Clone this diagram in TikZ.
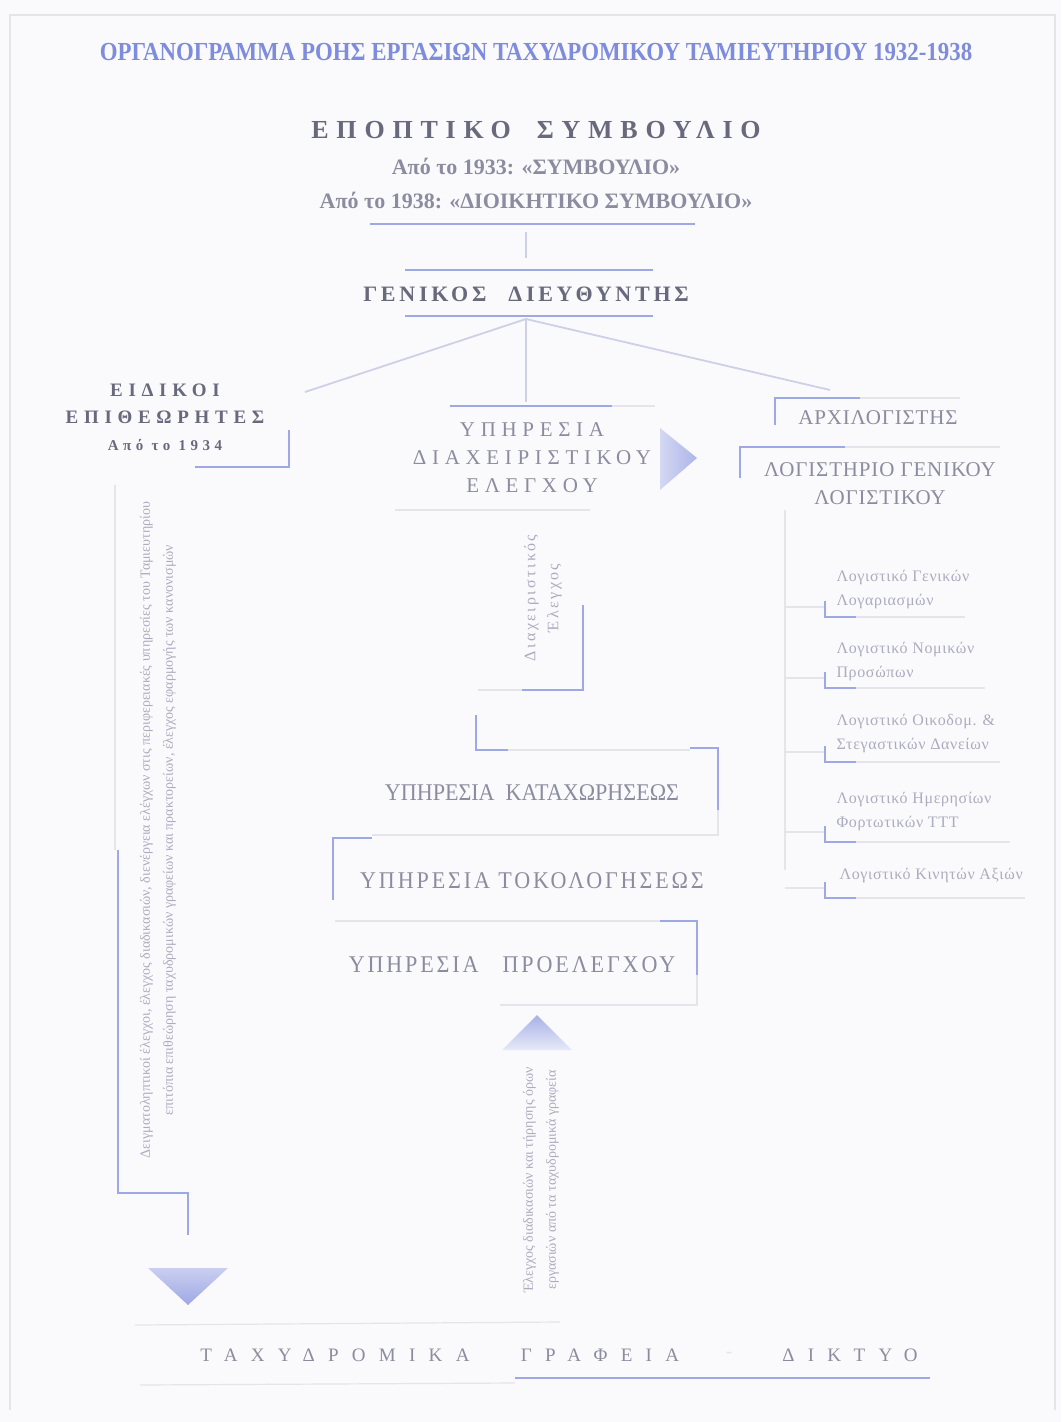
\documentclass[tikz,border=0pt]{standalone}
\usepackage{fontspec}
\setmainfont{Liberation Serif}
\newfontfamily\cond[FakeStretch=0.88]{Liberation Serif}
\newfontfamily\unitfont[FakeStretch=0.92]{Liberation Serif}
\usetikzlibrary{positioning}
\definecolor{paper}{RGB}{250,250,252}
\definecolor{lineblue}{RGB}{158,168,228}
\definecolor{titleblue}{RGB}{125,140,220}
\definecolor{ink}{RGB}{105,105,125}
\definecolor{inksoft}{RGB}{140,140,160}
\definecolor{inkpale}{RGB}{172,172,192}
\definecolor{paleline}{RGB}{228,228,234}
\definecolor{linkgrey}{RGB}{205,208,230}
\begin{document}
\begin{tikzpicture}[x=1pt,y=-1pt,
  rule/.style={draw=lineblue,line width=2.6pt},
  faint/.style={draw=paleline,line width=1.2pt},
  link/.style={draw=linkgrey,line width=1.8pt},
  titletext/.style={font=\cond\bfseries\fontsize{26}{30}\selectfont,text=titleblue},
  headtext/.style={font=\bfseries\fontsize{26}{30}\selectfont\addfontfeature{LetterSpace=30},text=ink},
  subtext/.style={font=\bfseries\fontsize{22}{26}\selectfont,text=inksoft},
  unittext/.style={font=\unitfont\fontsize{24}{28}\selectfont,text=inksoft,align=center},
  spaced/.style={font=\fontsize{21}{28}\selectfont\addfontfeature{LetterSpace=27},text=inksoft,align=center},
  accttext/.style={font=\fontsize{21}{28}\selectfont\addfontfeature{LetterSpace=4},text=inksoft,align=center},
  smalltext/.style={font=\fontsize{16}{24}\selectfont\addfontfeature{LetterSpace=4},text=inkpale,align=left,anchor=west},
  verttext/.style={rotate=90,font=\fontsize{14}{23}\selectfont,text=inkpale,align=center}]
\useasboundingbox (0,0) rectangle (1061,1422);
\fill[paper] (0,0) rectangle (1061,1422);
\draw[faint] (10,1410) -- (10,15) -- (1055,15) -- (1055,1410);

\node[titletext] (title) at (536,52) {ΟΡΓΑΝΟΓΡΑΜΜΑ ΡΟΗΣ ΕΡΓΑΣΙΩΝ ΤΑΧΥΔΡΟΜΙΚΟΥ ΤΑΜΙΕΥΤΗΡΙΟΥ 1932-1938};
\node[headtext] (board) at (536,130) {ΕΠΟΠΤΙΚΟ\quad ΣΥΜΒΟΥΛΙΟ};
\node[subtext] (from33) at (536,166) {Από το 1933: «ΣΥΜΒΟΥΛΙΟ»};
\node[subtext] (from38) at (536,200) {Από το 1938: «ΔΙΟΙΚΗΤΙΚΟ ΣΥΜΒΟΥΛΙΟ»};
\draw[rule] (370,224) -- (695,224);
\node[headtext,font=\bfseries\fontsize{22}{26}\selectfont\addfontfeature{LetterSpace=17}] (director) at (526,294) {ΓΕΝΙΚΟΣ\quad ΔΙΕΥΘΥΝΤΗΣ};
\draw[rule] (405,270) -- (653,270);
\draw[rule] (405,316) -- (653,316);
\coordinate (boardfoot) at (526,232);
\coordinate (dirhead) at (526,258);
\draw[link] (boardfoot) -- (dirhead);

\coordinate (dirfoot) at (526,319);
\coordinate (toinsp) at (305,392);
\coordinate (tomgmt) at (526,402);
\coordinate (tochief) at (830,390);
\draw[link] (dirfoot) -- (toinsp);
\draw[link] (dirfoot) -- (tomgmt);
\draw[link] (dirfoot) -- (tochief);

\node[headtext,font=\bfseries\fontsize{19}{27}\selectfont\addfontfeature{LetterSpace=30},align=center] (inspectors) at (165,417) {ΕΙΔΙΚΟΙ\\ΕΠΙΘΕΩΡΗΤΕΣ\\\fontsize{15}{27}\selectfont Από το 1934};
\draw[rule] (289,430) -- (289,467) -- (195,467);

\node[spaced] (mgmt) at (532,458) {ΥΠΗΡΕΣΙΑ\\ΔΙΑΧΕΙΡΙΣΤΙΚΟΥ\\ΕΛΕΓΧΟΥ};
\draw[rule] (450,406) -- (612,406);
\draw[faint] (395,510) -- (590,510);
\draw[faint] (612,406) -- (655,406);
\shade[left color=lineblue!45,right color=lineblue!85] (660,428) -- (697,458) -- (660,490) -- cycle;

\node[accttext] (chief) at (878,418) {ΑΡΧΙΛΟΓΙΣΤΗΣ};
\draw[rule] (775,425) -- (775,398) -- (860,398);
\draw[faint] (860,398) -- (960,398);
\node[accttext] (genacc) at (880,484) {ΛΟΓΙΣΤΗΡΙΟ ΓΕΝΙΚΟΥ\\ΛΟΓΙΣΤΙΚΟΥ};
\draw[rule] (740,478) -- (740,447) -- (845,447);
\draw[faint] (845,447) -- (1000,447);

\draw[faint] (785,510) -- (785,870);
\node[smalltext] (acc1) at (833,590) {Λογιστικό Γενικών\\Λογαριασμών};
\node[smalltext] (acc2) at (833,662) {Λογιστικό Νομικών\\Προσώπων};
\node[smalltext] (acc3) at (833,734) {Λογιστικό Οικοδομ. \&\\Στεγαστικών Δανείων};
\node[smalltext] (acc4) at (833,812) {Λογιστικό Ημερησίων\\Φορτωτικών ΤΤΤ};
\node[smalltext] (acc5) at (836,876) {Λογιστικό Κινητών Αξιών};
\foreach \y/\e in {617/965,688/985,762/1000,842/1010,898/1025}{
  \draw[faint] (785,\y-10) -- (825,\y-10);
  \draw[rule] (825,\y-16) -- (825,\y) -- (856,\y);
  \draw[faint] (856,\y) -- (\e,\y);
}

\node[verttext,font=\fontsize{16}{23}\selectfont\addfontfeature{LetterSpace=15}] (audit) at (543,598) {Διαχειριστικός\\Έλεγχος};
\draw[rule] (583,605) -- (583,690) -- (522,690);
\draw[faint] (522,690) -- (478,690);

\draw[rule] (476,715) -- (476,750) -- (508,750);
\draw[faint] (508,750) -- (690,750);
\draw[rule] (690,748) -- (718,748) -- (718,810);
\draw[faint] (718,810) -- (718,835) -- (372,835);
\node[unittext] (regsvc) at (532,793) {ΥΠΗΡΕΣΙΑ\ \ ΚΑΤΑΧΩΡΗΣΕΩΣ};

\node[unittext,font=\unitfont\fontsize{24}{28}\selectfont\addfontfeature{LetterSpace=12}] (intsvc) at (532,881) {ΥΠΗΡΕΣΙΑ ΤΟΚΟΛΟΓΗΣΕΩΣ};
\draw[rule] (333,900) -- (333,838) -- (372,838);

\draw[faint] (335,921) -- (660,921);
\draw[rule] (660,921) -- (697,921) -- (697,975);
\draw[faint] (697,975) -- (697,1005) -- (500,1005);
\node[unittext,font=\unitfont\fontsize{24}{28}\selectfont\addfontfeature{LetterSpace=12}] (presvc) at (512,965) {ΥΠΗΡΕΣΙΑ\quad ΠΡΟΕΛΕΓΧΟΥ};

\shade[top color=lineblue!90,bottom color=lineblue!25] (537,1015) -- (572,1050) -- (502,1050) -- cycle;
\node[verttext] (procctl) at (541,1180) {Έλεγχος διαδικασιών και τήρησης όρων\\εργασιών από τα ταχυδρομικά γραφεία};

\node[verttext] (sampling) at (158,830) {Δειγματοληπτικοί έλεγχοι, έλεγχος διαδικασιών, διενέργεια ελέγχων στις περιφερειακές υπηρεσίες του Ταμιευτηρίου\\επιτόπια επιθεώρηση ταχυδρομικών γραφείων και πρακτορείων, έλεγχος εφαρμογής των κανονισμών};
\draw[faint] (115,485) -- (115,850);
\draw[rule] (118,850) -- (118,1193) -- (188,1193) -- (188,1235);
\shade[top color=lineblue!55,bottom color=lineblue] (148,1268) -- (228,1268) -- (188,1305) -- cycle;

\draw[faint] (135,1325) -- (560,1322);
\draw[faint] (140,1385) -- (515,1383);
\draw[rule] (515,1378) -- (930,1378);
\node[unittext,font=\fontsize{19}{24}\selectfont\addfontfeature{LetterSpace=70}] (offices) at (335,1355) {ΤΑΧΥΔΡΟΜΙΚΑ};
\node[unittext,font=\fontsize{19}{24}\selectfont\addfontfeature{LetterSpace=70}] (posts) at (600,1355) {ΓΡΑΦΕΙΑ};
\node[unittext,font=\fontsize{19}{24}\selectfont,text=paleline] (dash) at (729,1355) {-};
\node[unittext,font=\fontsize{19}{24}\selectfont\addfontfeature{LetterSpace=70}] (network) at (850,1355) {ΔΙΚΤΥΟ};
\end{tikzpicture}
\end{document}
